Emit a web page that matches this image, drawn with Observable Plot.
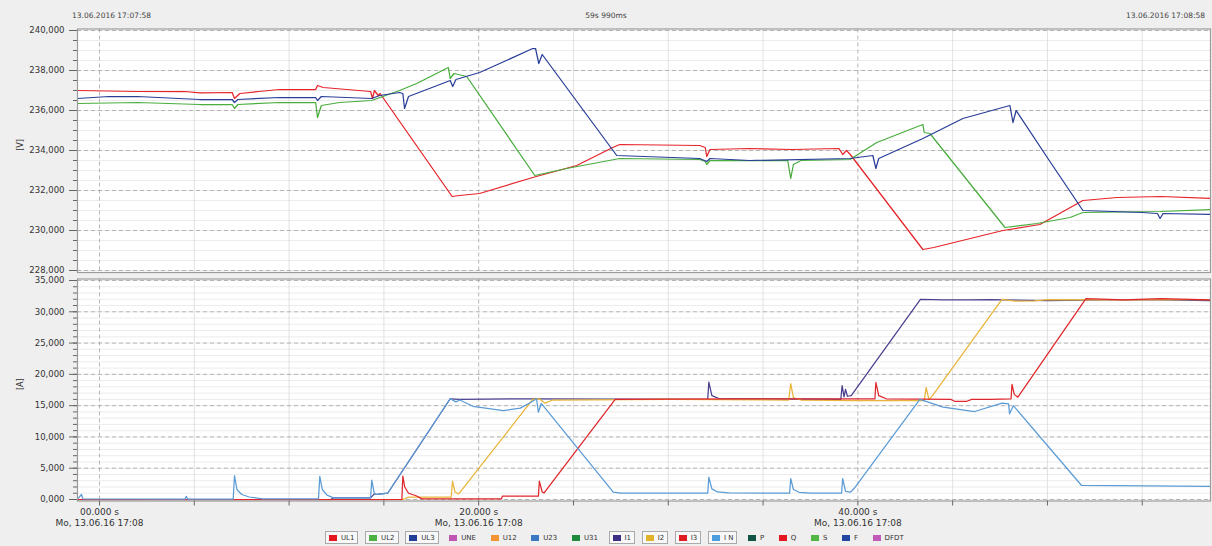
<!DOCTYPE html>
<html>
<head>
<meta charset="utf-8">
<script src="https://cdn.jsdelivr.net/npm/d3@7"></script>
<script src="https://cdn.jsdelivr.net/npm/@observablehq/plot@0.6"></script>
<style>
  body { margin: 0; background: #efefef; font-family: "DejaVu Sans", sans-serif; }
  #wrap { position: relative; width: 1212px; height: 546px; overflow: hidden; background: #efefef; }
  .hdr { position: absolute; top: 11px; font-size: 7.5px; color: #444; white-space: nowrap; line-height: 9px; }
  #top, #bot { position: absolute; left: 0; }
  #top { top: 0; }
  #bot { top: 276px; }
  #legend { position: absolute; left: 325px; top: 531px; display: flex; align-items: center; font-size: 7px; color: #333; }
  .item { display: flex; align-items: center; padding: 1px 3px; border: 1px solid transparent; margin-right: 6.6px; height: 9px; }
  .item.on { border-color: #a9a9a9; background: #f8f8f8; }
  .sw { width: 8px; height: 6px; margin-right: 4px; }
</style>
</head>
<body>
<div id="wrap">
  <div class="hdr" id="hL" style="left:72px"></div>
  <div class="hdr" id="hC" style="left:0;width:1212px;text-align:center"></div>
  <div class="hdr" id="hR" style="right:7px"></div>
  <div id="top"></div>
  <div id="bot"></div>
  <div id="legend"></div>
</div>
<script>
// ---------- header texts ----------
const headerLeft = "13.06.2016 17:07:58";
const headerCenter = "59s 990ms";
const headerRight = "13.06.2016 17:08:58";

// ---------- time axis ----------
const timeDomain = [-1.16, 58.6];
const xMajorTicks = [0, 20, 40];
const xMinorTicks = [0, 5, 10, 15, 20, 25, 30, 35, 40, 45, 50, 55];
const xTickDate = "Mo, 13.06.16 17:08";

// ---------- voltage panel [V] ----------
const voltDomain = [228, 240];
const voltMajorTicks = [228, 230, 232, 234, 236, 238, 240];
const voltMinorTicks = d3.range(228, 240.01, 0.5);

const ul1Time = [-1.16, 2.0, 4.5, 5.3, 7.0, 7.12, 7.4, 8.4, 9.5, 11.4, 11.5, 11.8, 14.3, 14.4, 14.5, 14.7, 14.8, 18.6, 19.0, 20.05, 22.85, 25.17, 27.07, 27.44, 31.66, 31.95, 32.03, 32.2, 34.3, 36.5, 39.0, 39.2, 39.4, 39.6, 43.43, 44.0, 47.65, 49.6, 51.87, 53.67, 56.0, 58.6];
const ul1Volt = [237.0, 236.95, 236.95, 236.88, 236.9, 236.6, 236.85, 236.95, 237.05, 237.05, 237.25, 237.15, 236.95, 236.6, 237.0, 236.75, 236.85, 231.7, 231.75, 231.85, 232.65, 233.25, 234.15, 234.3, 234.25, 234.15, 233.7, 234.05, 234.1, 234.05, 234.1, 233.8, 234.0, 233.8, 229.05, 229.15, 230.0, 230.3, 231.5, 231.65, 231.7, 231.6];

const ul2Time = [-1.16, 2.0, 5.28, 7.0, 7.12, 7.3, 9.5, 11.4, 11.5, 11.7, 12.66, 14.35, 15.83, 16.73, 18.4, 18.5, 18.7, 19.37, 22.96, 24.64, 27.44, 31.66, 31.95, 32.03, 32.2, 34.3, 36.3, 36.46, 36.6, 37.0, 39.58, 41.0, 43.43, 43.5, 43.8, 47.76, 49.45, 51.19, 51.87, 55.94, 58.6];
const ul2Volt = [236.35, 236.4, 236.3, 236.3, 236.1, 236.3, 236.4, 236.4, 235.65, 236.25, 236.4, 236.5, 237.0, 237.35, 238.15, 237.6, 237.85, 237.7, 232.75, 233.1, 233.6, 233.55, 233.45, 233.3, 233.5, 233.5, 233.5, 232.6, 233.3, 233.5, 233.55, 234.4, 235.3, 234.9, 234.85, 230.15, 230.35, 230.65, 230.9, 230.95, 231.05];

const ul3Time = [-1.16, 0.5, 2.0, 5.28, 7.0, 7.12, 7.3, 9.5, 11.4, 11.5, 11.7, 14.35, 14.78, 15.83, 16.0, 16.09, 16.3, 18.5, 18.63, 18.8, 20.05, 21.11, 22.85, 23.0, 23.17, 23.35, 27.28, 31.66, 32.03, 32.2, 34.3, 39.58, 40.79, 40.95, 41.1, 43.43, 45.54, 48.02, 48.18, 48.35, 50.13, 51.87, 55.0, 55.8, 55.94, 56.1, 58.6];
const ul3Volt = [236.6, 236.7, 236.7, 236.55, 236.55, 236.4, 236.55, 236.65, 236.65, 236.5, 236.7, 236.6, 236.75, 236.9, 236.85, 236.1, 236.7, 237.5, 237.2, 237.55, 237.9, 238.35, 239.1, 239.1, 238.35, 238.8, 233.75, 233.6, 233.45, 233.6, 233.5, 233.6, 233.75, 233.1, 233.6, 234.6, 235.6, 236.25, 235.4, 236.0, 233.45, 231.0, 230.9, 230.85, 230.6, 230.85, 230.8];

// ---------- current panel [A] ----------
const ampDomain = [0, 35];
const ampMajorTicks = [0, 5, 10, 15, 20, 25, 30, 35];
const ampMinorTicks = d3.range(0, 35.01, 1);

const i1Time = [-1.16, 12.2, 12.35, 14.3, 14.5, 14.65, 15.2, 18.5, 19.0, 23.0, 32.08, 32.14, 32.3, 32.7, 39.1, 39.17, 39.27, 39.35, 39.45, 39.65, 43.3, 44.5, 46.0, 47.0, 50.0, 53.0, 56.0, 58.6];
const i1Amp = [0.0, 0.0, 0.27, 0.27, 0.9, 0.8, 1.0, 16.1, 16.0, 16.1, 16.0, 18.75, 16.6, 16.1, 16.0, 18.2, 16.4, 17.6, 16.5, 16.6, 32.0, 31.9, 31.9, 31.95, 31.8, 31.9, 31.9, 31.8];

const i2Time = [-1.16, 16.0, 16.3, 16.7, 18.55, 18.62, 18.75, 18.95, 22.85, 23.2, 23.5, 23.9, 30.0, 36.35, 36.46, 36.6, 37.0, 40.0, 43.5, 43.6, 43.75, 43.9, 47.6, 48.3, 49.3, 50.0, 54.0, 58.6];
const i2Amp = [0.0, 0.0, 0.37, 0.37, 0.37, 2.93, 1.2, 0.9, 16.0, 16.1, 15.4, 15.9, 16.0, 15.9, 18.5, 16.3, 15.9, 15.8, 15.8, 17.9, 16.0, 16.45, 32.0, 31.7, 31.75, 31.95, 31.9, 31.95];

const i3Time = [-1.16, 15.95, 16.0, 16.1, 16.3, 16.7, 17.0, 21.2, 21.25, 23.15, 23.2, 23.35, 23.45, 27.2, 30.0, 35.0, 40.9, 40.95, 41.1, 41.5, 44.9, 45.1, 45.75, 46.0, 47.0, 48.08, 48.13, 48.25, 48.44, 52.03, 54.0, 56.0, 58.6];
const i3Amp = [0.0, 0.0, 3.73, 2.0, 1.0, 0.6, 0.1, 0.1, 0.53, 0.53, 2.93, 1.2, 1.07, 16.0, 16.05, 16.1, 16.1, 18.7, 16.6, 16.1, 16.0, 15.7, 15.7, 16.0, 16.0, 16.1, 18.4, 16.8, 16.35, 32.1, 31.9, 32.1, 31.9];

const inTime = [-1.16, -0.95, -0.88, 4.5, 4.58, 4.66, 7.05, 7.12, 7.25, 7.5, 7.9, 8.6, 11.55, 11.62, 11.75, 12.0, 12.35, 14.3, 14.36, 14.5, 14.65, 15.2, 18.5, 18.8, 19.0, 19.7, 21.3, 22.2, 22.85, 23.05, 23.15, 23.3, 27.1, 27.5, 32.08, 32.14, 32.3, 32.6, 33.2, 36.4, 36.46, 36.6, 36.9, 37.5, 39.14, 39.2, 39.35, 39.6, 39.8, 43.27, 44.5, 46.16, 47.6, 47.95, 48.0, 48.2, 51.8, 58.6];
const inAmp = [0.05, 0.8, 0.1, 0.05, 0.5, 0.05, 0.05, 3.8, 1.6, 0.8, 0.4, 0.1, 0.1, 3.7, 1.6, 0.7, 0.27, 0.27, 3.1, 0.9, 0.8, 1.0, 16.1, 15.6, 15.9, 14.9, 14.2, 14.6, 15.7, 16.1, 13.95, 15.35, 1.17, 1.0, 1.0, 3.56, 1.7, 1.2, 1.05, 1.0, 3.35, 1.6, 1.15, 1.0, 1.0, 3.35, 1.3, 1.17, 1.75, 16.0, 14.75, 14.06, 15.4, 15.3, 13.7, 15.0, 2.24, 2.08];

// ---------- legend ----------
const legendNames  = ["UL1", "UL2", "UL3", "UNE", "U12", "U23", "U31", "I1", "I2", "I3", "I N", "P", "Q", "S", "F", "DFDT"];
const legendColors = ["#e3171d", "#4cb043", "#213f96", "#bf56b4", "#f39533", "#3a78c4", "#1f8a3c", "#3d2f83", "#e2b32a", "#e01b1f", "#4b9fe0", "#115445", "#e3171d", "#52b845", "#2346a2", "#c15ab8"];
const legendActive = [true, true, true, false, false, false, false, true, true, true, true, false, false, false, false, false];

// ---------- colours of drawn series ----------
const colUL1 = "#e6242a", colUL2 = "#49ad3e", colUL3 = "#2a3e98";
const colI1 = "#4a3f8f", colI2 = "#e8b53a", colI3 = "#e0262b", colIN = "#5b9bd6";

// ---------- build ----------
document.getElementById("hL").textContent = headerLeft;
document.getElementById("hC").textContent = headerCenter;
document.getElementById("hR").textContent = headerRight;

const toRows = (ts, vs) => ts.map((t, i) => ({t, v: vs[i]}));
const fmtNum = v => v.toFixed(3).replace(".", ",");
const xMinorOnly = xMinorTicks.filter(t => !xMajorTicks.includes(t));

function gridMarks(yMinor, yMajor) {
  return [
    Plot.frame({fill: "white", stroke: null}),
    Plot.gridY({ticks: yMinor, stroke: "#e4e4e4", strokeOpacity: 1, strokeWidth: 0.7}),
    Plot.gridX({ticks: xMinorOnly, stroke: "#d6d6d6", strokeOpacity: 1, strokeWidth: 0.7}),
    Plot.gridY({ticks: yMajor, stroke: "#a4a4a4", strokeOpacity: 1, strokeWidth: 0.8, strokeDasharray: "4,3"}),
    Plot.gridX({ticks: xMajorTicks, stroke: "#a4a4a4", strokeOpacity: 1, strokeWidth: 0.8, strokeDasharray: "4,3"})
  ];
}
function yAxisMarks(yMinor, yMajor, unit) {
  return [
    Plot.frame({stroke: "#9b9b9b", strokeWidth: 1.2}),
    Plot.axisY({ticks: yMinor, tickSize: 4, tickFormat: () => "", stroke: "#666"}),
    Plot.axisY({ticks: yMajor, tickSize: 8, tickPadding: 5, tickFormat: fmtNum, fontSize: 8.5, stroke: "#666", fill: "#333"}),
    Plot.text([unit], {text: d => d, frameAnchor: "left", dx: -57, rotate: -90, fontSize: 8, fill: "#333"})
  ];
}
const line = (ts, vs, color) => Plot.line(toRows(ts, vs), {x: "t", y: "v", stroke: color, strokeWidth: 1.25, clip: true});

const topChart = Plot.plot({
  width: 1212, height: 276,
  marginLeft: 77, marginRight: 2, marginTop: 28.5, marginBottom: 4,
  style: {background: "transparent", fontFamily: "DejaVu Sans", color: "#333", overflow: "visible"},
  x: {domain: timeDomain, label: null, axis: null},
  y: {domain: voltDomain, label: null, insetTop: 1.5, insetBottom: 2, axis: null},
  marks: [
    ...gridMarks(voltMinorTicks, voltMajorTicks),
    line(ul1Time, ul1Volt, colUL1),
    line(ul2Time, ul2Volt, colUL2),
    line(ul3Time, ul3Volt, colUL3),
    ...yAxisMarks(voltMinorTicks, voltMajorTicks, "[V]")
  ]
});
document.getElementById("top").appendChild(topChart);

const botChart = Plot.plot({
  width: 1212, height: 270,
  marginLeft: 77, marginRight: 2, marginTop: 2.5, marginBottom: 45.5,
  style: {background: "transparent", fontFamily: "DejaVu Sans", color: "#333", overflow: "visible"},
  x: {domain: timeDomain, label: null, axis: null},
  y: {domain: ampDomain, label: null, insetTop: 1.5, insetBottom: 1.5, axis: null},
  marks: [
    ...gridMarks(ampMinorTicks, ampMajorTicks),
    line(i1Time, i1Amp, colI1),
    line(i2Time, i2Amp, colI2),
    line(i3Time, i3Amp, colI3),
    line(inTime, inAmp, colIN),
    ...yAxisMarks(ampMinorTicks, ampMajorTicks, "[A]"),
    Plot.axisX({ticks: xMinorOnly, tickSize: 5, tickFormat: () => "", stroke: "#666"}),
    Plot.axisX({ticks: xMajorTicks, tickSize: 5, tickPadding: 1, stroke: "#666", fill: "#333", fontSize: 9, lineHeight: 1.25,
      tickFormat: t => d3.format("06.3f")(t) + " s\n" + xTickDate})
  ]
});
document.getElementById("bot").appendChild(botChart);

const legend = document.getElementById("legend");
legendNames.forEach((name, i) => {
  const item = document.createElement("div");
  item.className = "item" + (legendActive[i] ? " on" : "");
  const sw = document.createElement("span");
  sw.className = "sw";
  sw.style.background = legendColors[i];
  const lb = document.createElement("span");
  lb.textContent = name;
  item.appendChild(sw); item.appendChild(lb);
  legend.appendChild(item);
});
</script>
</body>
</html>
